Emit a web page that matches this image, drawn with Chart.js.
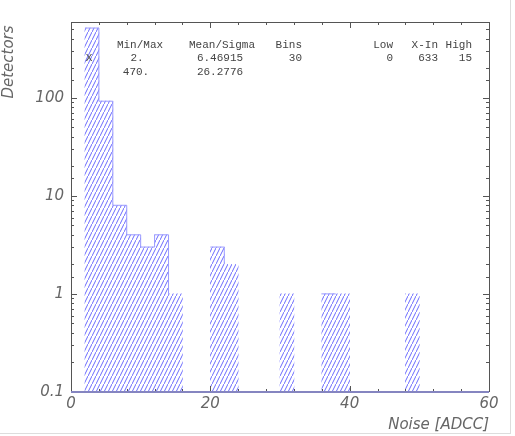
<!DOCTYPE html>
<html>
<head>
<meta charset="utf-8">
<script src="https://cdn.jsdelivr.net/npm/chart.js@4"></script>
<style>
  html, body { margin: 0; padding: 0; background: #fff; }
  #wrap { position: relative; width: 515px; height: 436px; }
  #frame { position: absolute; left: 0; top: 0; width: 510px; height: 433px;
           border-right: 1px solid #ddd; border-bottom: 1px solid #ddd; pointer-events: none; }
</style>
</head>
<body>
<div id="wrap">
  <canvas id="canvas" width="515" height="436"></canvas>
  <div id="frame"></div>
</div>
<script>
// histogram bins (lower edges), bin width 2
const binLow = [0, 2, 4, 6, 8, 10, 12, 14, 16, 18, 20, 22, 24, 26, 28,
                30, 32, 34, 36, 38, 40, 42, 44, 46, 48, 50, 52, 54, 56, 58];
const counts = [0, 512, 92, 8, 4, 3, 4, 1, 0, 0, 3, 2, 0, 0, 0,
                1, 0, 0, 1, 1, 0, 0, 0, 0, 1, 0, 0, 0, 0, 0];
const binWidth = 2;

// statistics box
const statHead = ["Min/Max", "Mean/Sigma", "Bins", "Low", "X-In", "High"];
const statRow1 = ["X", "2.", "6.46915", "30", "0", "633", "15"];
const statRow2 = ["470.", "26.2776"];

const xLabels = [0, 20, 40, 60];
const yLabels = [0.1, 1, 10, 100];

const ink = "#555";
const labelColor = "#666";
const labelFont = { family: "'DejaVu Sans'", size: 15, style: "italic", weight: 200 };

function hatch() {
  const c = document.createElement("canvas");
  c.width = 4; c.height = 8;
  const g = c.getContext("2d");
  g.fillStyle = "#fff";
  g.fillRect(0, 0, 4, 8);
  g.strokeStyle = "#6a6aff";
  g.lineWidth = 1;
  g.beginPath();
  g.moveTo(-1, 10); g.lineTo(5, -2);
  g.stroke();
  return g.createPattern(c, "repeat");
}

const points = binLow.map((x, i) => ({ x: x + binWidth / 2, y: counts[i] > 0 ? counts[i] : null }));
// step outline along bin edges (0 sits on the axis minimum of the log scale)
const outline = binLow.map((x, i) => ({ x: x, y: counts[i] }));
outline.push({ x: binLow[binLow.length - 1] + binWidth, y: counts[counts.length - 1] });

const frame = {
  id: "frame",
  afterDraw(chart) {
    const { ctx, chartArea: a, scales } = chart;
    const xs = scales.x, ys = scales.y;
    ctx.save();
    ctx.strokeStyle = ink;
    ctx.lineWidth = 1;
    ctx.beginPath();
    // frame
    ctx.moveTo(a.left, a.top + 0.5); ctx.lineTo(a.right + 0.5, a.top + 0.5);
    ctx.lineTo(a.right + 0.5, a.bottom);
    ctx.moveTo(a.left + 0.5, a.top); ctx.lineTo(a.left + 0.5, a.bottom);
    // x ticks, inward top and bottom
    xs.ticks.forEach(t => {
      const px = Math.round(xs.getPixelForValue(t.value)) + 0.5;
      const len = xLabels.includes(t.value) ? 6 : 3;
      ctx.moveTo(px, a.top); ctx.lineTo(px, a.top + len);
      ctx.moveTo(px, a.bottom); ctx.lineTo(px, a.bottom - len);
    });
    // y ticks, inward left and right
    ys.ticks.forEach(t => {
      if (t.value < ys.min || t.value > ys.max) return;
      const py = Math.round(ys.getPixelForValue(t.value)) + 0.5;
      const len = yLabels.some(v => Math.abs(v - t.value) < 1e-9) ? 6 : 3;
      ctx.moveTo(a.left, py); ctx.lineTo(a.left + len, py);
      ctx.moveTo(a.right, py); ctx.lineTo(a.right - len, py);
    });
    ctx.stroke();
    // baseline
    ctx.strokeStyle = "#8585c0";
    ctx.lineWidth = 2;
    ctx.beginPath();
    ctx.moveTo(a.left, a.bottom); ctx.lineTo(a.right, a.bottom);
    ctx.stroke();

    // y axis title
    ctx.fillStyle = labelColor;
    ctx.font = "italic 200 15px 'DejaVu Sans'";
    ctx.textAlign = "center";
    ctx.textBaseline = "middle";
    ctx.save();
    ctx.translate(9, 62);
    ctx.rotate(-Math.PI / 2);
    ctx.fillText("Detectors", 0, 0);
    ctx.restore();

    // stats box
    ctx.fillStyle = "#444";
    ctx.font = "11px 'Liberation Mono'";
    ctx.textBaseline = "middle";
    ctx.textAlign = "center";
    ctx.fillText(statHead[0], 140, 45);
    ctx.fillText(statHead[1], 222, 45);
    ctx.textAlign = "right";
    ctx.fillText(statHead[2], 302, 45);
    ctx.fillText(statHead[3], 393, 45);
    ctx.fillText(statHead[4], 438, 45);
    ctx.fillText(statHead[5], 472, 45);

    ctx.textAlign = "center";
    ctx.fillText(statRow1[0], 89, 58);
    ctx.fillText(statRow1[1], 137, 58);
    ctx.fillText(statRow1[2], 220, 58);
    ctx.textAlign = "right";
    ctx.fillText(statRow1[3], 302, 58);
    ctx.fillText(statRow1[4], 393, 58);
    ctx.fillText(statRow1[5], 438, 58);
    ctx.fillText(statRow1[6], 472, 58);
    ctx.textAlign = "center";
    ctx.fillText(statRow2[0], 136, 72);
    ctx.fillText(statRow2[1], 220, 72);
    ctx.restore();
  }
};

new Chart("canvas", {
  type: "bar",
  data: {
    datasets: [{
      data: points,
      backgroundColor: hatch(),
      borderWidth: 0,
      barPercentage: 1,
      categoryPercentage: 1,
      order: 2
    }, {
      type: "line",
      data: outline,
      stepped: "before",
      borderColor: "#9a9aff",
      borderWidth: 1,
      pointRadius: 0,
      fill: false,
      order: 1
    }]
  },
  options: {
    responsive: false,
    animation: false,
    layout: { padding: { left: 0, top: 22, right: 26, bottom: 0 } },
    plugins: { legend: { display: false }, tooltip: { enabled: false } },
    scales: {
      x: {
        type: "linear",
        offset: false,
        min: 0, max: 60,
        grid: { display: false },
        border: { display: false },
        afterFit(s) { s.height = 44; },
        ticks: {
          stepSize: 4,
          autoSkip: false,
          maxRotation: 0,
          padding: -5,
          color: labelColor,
          font: labelFont,
          callback: v => xLabels.includes(v) ? String(v) : ""
        },
        title: {
          display: true, text: "Noise [ADCC]", align: "end",
          color: labelColor, font: labelFont, padding: { top: 0, bottom: 2 }
        }
      },
      y: {
        type: "logarithmic",
        min: 0.1, max: 590,
        grid: { display: false },
        border: { display: false },
        afterFit(s) { s.width = 71; },
        ticks: {
          autoSkip: false,
          padding: -1,
          color: labelColor,
          font: labelFont,
          callback: v => yLabels.some(l => Math.abs(l - v) < 1e-9) ? String(v) : ""
        }
      }
    }
  },
  plugins: [frame]
});
</script>
</body>
</html>
